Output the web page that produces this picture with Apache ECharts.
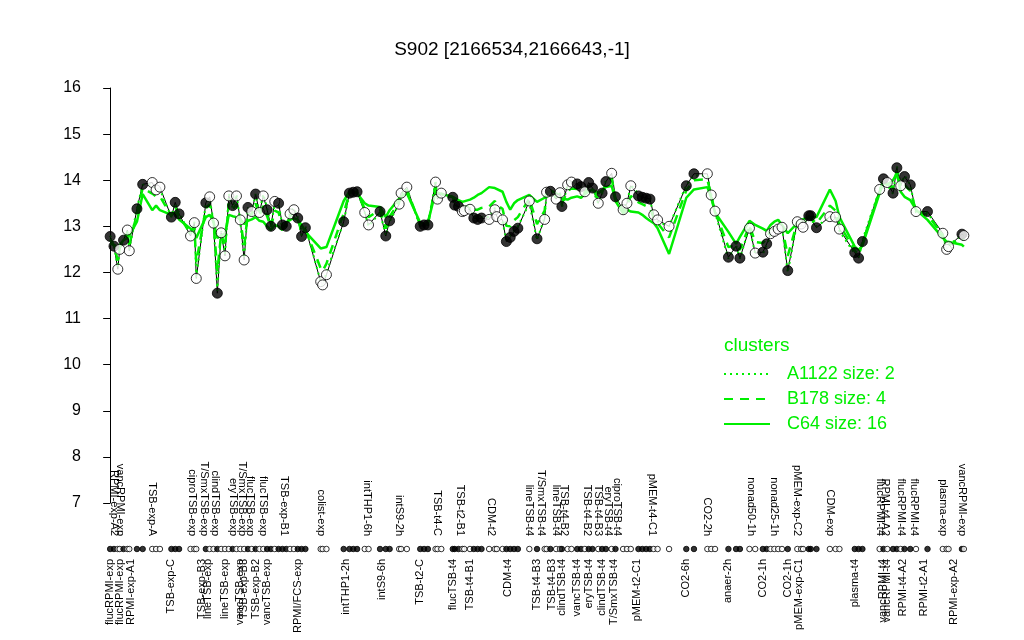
<!DOCTYPE html>
<html>
<head>
<meta charset="utf-8">
<script src="https://cdn.jsdelivr.net/npm/echarts@6/dist/echarts.min.js"></script>
<style>html,body{margin:0;padding:0;background:#fff}#c{width:1024px;height:640px}</style>
</head>
<body>
<div id="c"></div>
<script>
// experiment positions along the x axis (order index with group gaps)
const pos = [0,1,2,2.5,3.5,4.5,5,7,8.5,11,12,13,16,17,18,21,22,22.5,
25,26,27,28,29,30,31,32,33,34,35,36,37,38,39,40,41,42,43,44,45,46,47,48,49,50,51,
55,55.5,56.5,61,62.5,63.5,64.5,66.5,67.5,70.5,72,73,75.5,76,77.5,81,82,83,85,85.5,86.5,
89.5,90,91,92,92.5,94,95,96,97,99,100.5,101,102.5,103.5,104.5,105.5,106.5,109.5,111.5,113.5,114,115,
116.5,117.5,118,119.5,120.5,122,123,124,125,126,127.5,128.5,129.5,131,132,134,135,136,
138,139,140,141,142,143,146,150.5,152.5,156,157,158,161.5,163.5,164.5,167,168.5,170.5,171.5,172.5,173.5,174.5,175.5,177,
179.5,180.5,181,182.5,183,184.5,188,189.5,190.5,194.5,195.5,196.5,201,202,203,204.5,205.5,206.5,207.5,209,210.5,213.5,
217.5,218.5,219,222.5,223];
// expression values
const vals = [12.78,12.57,12.07,12.5,12.7,12.92,12.47,13.38,13.91,13.95,13.79,13.85,13.2,13.52,13.27,12.79,13.08,11.87,
13.51,13.64,13.07,11.55,12.86,12.36,13.66,13.45,13.66,13.14,12.27,13.41,13.32,13.7,13.3,13.66,13.36,13.0,13.54,13.5,13.03,13.0,13.27,13.36,13.18,12.78,12.97,
11.8,11.73,11.95,13.10,13.72,13.74,13.75,13.30,13.03,13.32,12.79,13.12,13.48,13.72,13.85,13.0,13.03,13.03,13.96,13.59,13.72,
13.63,13.46,13.43,13.32,13.34,13.37,13.18,13.15,13.18,13.15,13.36,13.21,13.14,12.67,12.76,12.89,12.96,13.55,12.73,13.15,13.74,13.76,
13.59,13.73,13.43,13.90,13.96,13.92,13.86,13.75,13.95,13.83,13.50,13.72,13.97,14.15,13.64,13.36,13.50,13.88,
13.66,13.63,13.61,13.59,13.25,13.14,13.0,13.88,14.14,14.14,13.68,13.33,12.33,12.57,12.31,12.96,12.42,12.44,12.62,12.84,12.89,12.94,12.98,12.04,
13.10,13.05,12.98,13.23,13.23,12.97,13.21,13.20,12.94,12.43,12.31,12.67,13.80,14.03,13.95,13.72,14.27,13.88,14.08,13.90,13.32,13.32,
12.85,12.50,12.56,12.83,12.80];
// 1 = filled circle, 0 = open circle
const filled = [1,1,0,0,1,0,0,1,1,0,0,0,1,1,1,0,0,0,
1,0,0,1,0,0,0,1,0,0,0,1,0,1,0,0,1,1,0,1,1,1,0,0,1,1,1,
0,0,0,1,1,1,1,0,0,1,1,1,0,0,0,1,1,1,0,0,0,
1,1,1,0,0,0,1,1,1,0,0,0,0,1,1,1,1,0,1,0,0,1,
0,0,1,0,0,1,1,0,1,1,0,1,1,0,1,0,0,0,
1,1,1,1,0,0,0,1,1,0,0,0,1,1,1,0,0,1,1,0,0,0,0,1,
0,0,0,1,1,1,0,0,0,1,1,1,0,1,0,1,1,0,1,1,0,1,
0,0,0,1,0];
// cluster mean profiles
const clusterC64 = [12.62,12.6,12.55,12.6,12.7,12.75,12.8,13.1,13.7,13.35,13.45,13.35,13.25,13.3,13.15,12.95,12.85,12.75,
13.2,13.25,13.1,12.75,12.8,12.85,13.25,13.22,13.2,13.15,13.05,13.12,13.15,13.2,13.12,13.1,13.0,12.92,13.03,13.0,12.92,13.08,13.14,13.18,13.14,13.03,12.88,
12.52,12.48,12.55,13.55,13.75,13.76,13.72,13.5,13.45,13.42,13.2,13.35,13.6,13.65,13.72,13.08,13.04,13.08,13.75,13.72,13.7,
13.64,13.6,13.57,13.53,13.55,13.58,13.62,13.68,13.72,13.85,13.83,13.84,13.75,13.53,13.36,13.5,13.57,13.68,13.53,13.62,13.72,13.78,
13.72,13.65,13.6,13.58,13.62,13.65,13.62,13.7,13.75,13.8,13.72,13.78,13.85,13.88,13.55,13.28,13.36,13.32,
13.3,13.25,13.18,13.12,13.07,12.96,12.4,13.62,13.8,13.85,13.62,13.3,12.88,12.62,12.77,13.12,13.03,12.95,12.9,13.03,13.1,13.14,13.03,12.85,
13.07,13.14,13.18,13.2,13.18,13.2,13.8,13.55,13.2,12.56,12.49,12.58,13.72,13.94,13.9,14.0,14.15,13.75,13.64,13.57,13.36,13.14,
12.75,12.67,12.64,12.6,12.56];
const clusterB178 = [12.72,12.58,12.26,12.54,12.7,12.85,12.6,13.27,13.83,13.71,13.65,13.65,13.22,13.43,13.22,12.85,12.99,12.22,
13.39,13.48,13.08,12.03,12.84,12.56,13.5,13.36,13.48,13.14,12.58,13.29,13.25,13.5,13.23,13.44,13.22,12.97,13.34,13.3,12.99,13.03,13.22,13.29,13.16,12.88,12.93,
12.09,12.03,12.19,13.28,13.73,13.75,13.74,13.38,13.2,13.36,12.95,13.21,13.53,13.69,13.8,13.03,13.03,13.05,13.88,13.64,13.71,
13.63,13.52,13.49,13.4,13.42,13.45,13.36,13.36,13.4,13.43,13.55,13.46,13.38,13.01,13.0,13.13,13.2,13.6,13.05,13.34,13.73,13.77,
13.64,13.7,13.5,13.77,13.82,13.81,13.76,13.73,13.87,13.82,13.59,13.74,13.92,14.04,13.6,13.33,13.44,13.66,
13.52,13.48,13.44,13.4,13.18,13.07,12.76,13.78,14.0,14.02,13.66,13.32,12.55,12.59,12.49,13.02,12.66,12.64,12.73,12.92,12.97,13.02,13.0,12.36,
13.09,13.09,13.06,13.22,13.21,13.06,13.45,13.34,13.04,12.48,12.38,12.63,13.77,13.99,13.93,13.83,14.22,13.83,13.9,13.77,13.34,13.25,
12.81,12.57,12.59,12.74,12.7];
const clusterA1122 = [12.8,12.6,12.1,12.5,12.7,12.9,12.5,13.4,13.9,13.9,13.8,13.8,13.2,13.5,13.3,12.8,13.1,11.9,
13.5,13.6,13.1,11.6,12.9,12.4,13.7,13.4,13.7,13.1,12.3,13.4,13.3,13.7,13.3,13.7,13.4,13.0,13.5,13.5,13.0,13.0,13.3,13.4,13.2,12.8,13.0,
11.8,11.7,12.0,13.1,13.7,13.7,13.8,13.3,13.0,13.3,12.8,13.1,13.5,13.7,13.8,13.0,13.0,13.0,14.0,13.6,13.7,
13.6,13.5,13.4,13.3,13.3,13.4,13.2,13.2,13.2,13.2,13.4,13.2,13.1,12.7,12.8,12.9,13.0,13.5,12.7,13.2,13.7,13.8,
13.6,13.7,13.4,13.9,14.0,13.9,13.9,13.7,13.9,13.8,13.5,13.7,14.0,14.1,13.6,13.4,13.5,13.9,
13.7,13.6,13.6,13.6,13.2,13.1,13.0,13.9,14.1,14.1,13.7,13.3,12.3,12.6,12.3,13.0,12.4,12.4,12.6,12.8,12.9,12.9,13.0,12.0,
13.1,13.0,13.0,13.2,13.2,13.0,13.2,13.2,12.9,12.4,12.3,12.7,13.8,14.0,13.9,13.7,14.3,13.9,14.1,13.9,13.3,13.3,
12.8,12.5,12.6,12.8,12.8];
// condition labels: [position, name]
const upperLabels = [[1,'RPMI-exp-A2'],[2.5,'vancRPMI-exp'],[11,'TSB-exp-A'],[21.5,'ciproTSB-exp'],[24.5,'T/SmxTSB-exp'],
[27.5,'clindTSB-exp'],[32,'eryTSB-exp'],[34.5,'T/SmxTSB-exp'],[36.5,'flucTSB-exp'],[40,'flucTSB-exp'],[45.5,'TSB-exp-B1'],
[55,'colist-exp'],[67,'intTHP1-6h'],[75.5,'intS9-2h'],[85.5,'TSB-t4-C'],[91.5,'TSB-t2-B1'],[99.5,'CDM-t2'],[109.5,'lineTSB-t4'],
[112.5,'T/SmxTSB-t4'],[116.5,'lineTSB-t4'],[118.5,'TSB-t4-B2'],[124.5,'TSB-t4-B2'],[127.5,'TSB-t4-B3'],[130,'eryTSB-t4'],
[132.5,'ciproTSB-t4'],[141.5,'pMEM-t4-C1'],[156,'CO2-2h'],[167.5,'nonad50-1h'],[173.5,'nonad25-1h'],[179.5,'pMEM-exp-C2'],
[188,'CDM-exp'],[201,'flucRPMI-t4'],[202.5,'RPMI-t4-A2'],[206.5,'flucRPMI-t4'],[210,'flucRPMI-t4'],[217.5,'plasma-exp'],[222.5,'vancRPMI-exp']];
const lowerLabels = [[0,'flucRPMI-exp'],[2.5,'flucRPMI-exp'],[5.5,'RPMI-exp-A1'],[16,'TSB-exp-C'],[24,'TSB-exp-B3'],
[25.5,'lineTSB-exp'],[30,'lineTSB-exp'],[34,'vancTSB-exp'],[35,'TSB-exp-B3'],[38,'TSB-exp-B2'],[41,'vancTSB-exp'],
[49,'RPMI/FCS-exp'],[61.5,'intTHP1-2h'],[71,'intS9-6h'],[81,'TSB-t2-C'],[89.5,'flucTSB-t4'],[94,'TSB-t4-B1'],[104,'CDM-t4'],
[111.5,'TSB-t4-B3'],[115.5,'TSB-t4-B3'],[118,'clindTSB-t4'],[122,'vancTSB-t4'],[125,'eryTSB-t4'],[128.5,'clindTSB-t4'],
[131.5,'T/SmxTSB-t4'],[137.5,'pMEM-t2-C1'],[150.5,'CO2-6h'],[161.5,'anaer-2h'],[170.5,'CO2-1h'],[177,'CO2-1h'],
[180,'pMEM-exp-C1'],[194.5,'plasma-t4'],[202,'vancRPMI-t4'],[203,'vancRPMI-t4'],[207,'RPMI-t4-A2'],[212.5,'RPMI-t2-A1'],[220.5,'RPMI-exp-A2']];
const yTicks = [7,8,9,10,11,12,13,14,15,16];

const GREEN = '#00ee00';
const FONT = 'Liberation Sans, Arial, sans-serif';
const upperMap = {}; upperLabels.forEach(d => upperMap[String(d[0])] = d[1]);
const lowerMap = {}; lowerLabels.forEach(d => lowerMap[String(d[0])] = d[1]);
const pts = pos.map((p, i) => ({value: [p, vals[i]], itemStyle: {color: filled[i] ? '#000' : '#fff'}}));
const dots = pos.map((p, i) => ({value: [p, 0], itemStyle: {color: filled[i] ? '#000' : '#fff'}}));
const mk = arr => pos.map((p, i) => [p, arr[i]]);

const chart = echarts.init(document.getElementById('c'), null, {renderer: 'canvas'});
chart.setOption({
  animation: false,
  backgroundColor: '#fff',
  title: [
    {text: 'S902 [2166534,2166643,-1]', left: 'center', top: 35,
     textStyle: {fontFamily: FONT, fontSize: 19, fontWeight: 'normal', color: '#000'}},
    {text: 'clusters', left: 719, top: 331,
     textStyle: {fontFamily: FONT, fontSize: 19, fontWeight: 'normal', color: GREEN}}
  ],
  legend: {
    orient: 'vertical', left: 718, top: 360, itemWidth: 46, itemHeight: 14, itemGap: 7,
    data: ['A1122 size: 2', 'B178 size: 4', 'C64 size: 16'],
    itemStyle: {opacity: 0},
    textStyle: {fontFamily: FONT, fontSize: 18, color: GREEN, padding: [0,0,0,12]},
    selectedMode: false
  },
  grid: [
    {left: 91, width: 892, top: 88, height: 415},
    {left: 91, width: 892, top: 544, height: 10}
  ],
  xAxis: [
    {gridIndex: 0, type: 'value', min: -5, max: 228, show: false},
    {gridIndex: 1, type: 'value', min: -5, max: 228, interval: 0.5, position: 'bottom',
     axisLine: {show: false}, axisTick: {show: false}, splitLine: {show: false},
     axisLabel: {rotate: 90, margin: 5, fontSize: 11, color: '#000', fontFamily: FONT,
       showMinLabel: true, showMaxLabel: true, formatter: v => lowerMap[String(v)] || ''}},
    {gridIndex: 1, type: 'value', min: -5, max: 228, interval: 0.5, position: 'top',
     axisLine: {show: false}, axisTick: {show: false}, splitLine: {show: false},
     axisLabel: {rotate: 90, margin: 8, fontSize: 11, color: '#000', fontFamily: FONT,
       showMinLabel: true, showMaxLabel: true, formatter: v => upperMap[String(v)] || ''}}
  ],
  yAxis: [
    {gridIndex: 0, type: 'value', min: yTicks[0], max: yTicks[yTicks.length-1], interval: 1,
     axisLine: {show: true, lineStyle: {color: '#000', width: 1}},
     axisTick: {show: true, length: 7, lineStyle: {color: '#000'}},
     splitLine: {show: false},
     axisLabel: {fontSize: 16, color: '#000', margin: 10, fontFamily: FONT}},
    {gridIndex: 1, type: 'value', min: -1, max: 1, show: false}
  ],
  series: [
    {name: 'profile', type: 'line', xAxisIndex: 0, yAxisIndex: 0, data: mk(vals), symbol: 'none',
     lineStyle: {color: '#000', width: 1}, z: 2},
    {name: 'A1122 size: 2', type: 'line', xAxisIndex: 0, yAxisIndex: 0, data: mk(clusterA1122), symbol: 'none',
     lineStyle: {color: GREEN, width: 2, type: [2, 4]}, itemStyle: {color: GREEN}, z: 3},
    {name: 'B178 size: 4', type: 'line', xAxisIndex: 0, yAxisIndex: 0, data: mk(clusterB178), symbol: 'none',
     lineStyle: {color: GREEN, width: 2.5, type: [9, 7]}, itemStyle: {color: GREEN}, z: 3},
    {name: 'C64 size: 16', type: 'line', xAxisIndex: 0, yAxisIndex: 0, data: mk(clusterC64), symbol: 'none',
     lineStyle: {color: GREEN, width: 2.5, type: 'solid'}, itemStyle: {color: GREEN}, z: 3},
    {name: 'points', type: 'scatter', xAxisIndex: 0, yAxisIndex: 0, data: pts, symbol: 'circle', symbolSize: 10,
     itemStyle: {borderColor: '#000', borderWidth: 1}, z: 4},
    {name: 'dotrow', type: 'scatter', xAxisIndex: 1, yAxisIndex: 1, data: dots, symbol: 'circle', symbolSize: 5.5,
     itemStyle: {borderColor: '#000', borderWidth: 1}, z: 4}
  ]
});
</script>
</body>
</html>
